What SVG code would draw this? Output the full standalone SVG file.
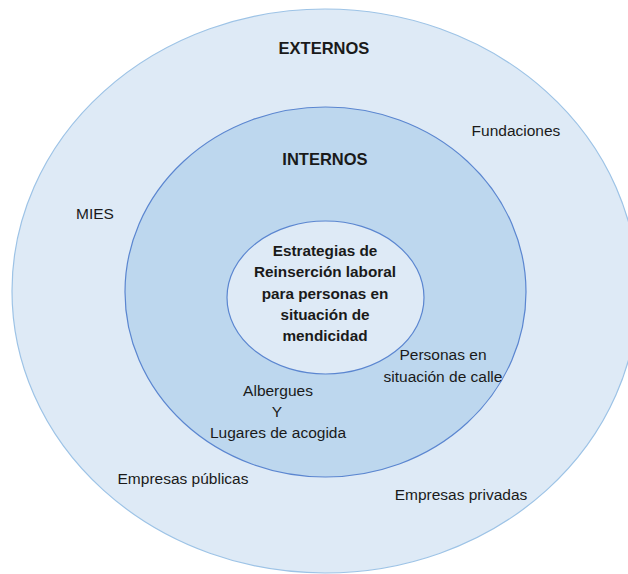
<svg xmlns="http://www.w3.org/2000/svg" width="628" height="574" viewBox="0 0 628 574">
<style>
text{font-family:"Liberation Sans",Arial,sans-serif;font-size:15.5px;fill:#1a1a1a;text-anchor:middle}
.b{font-weight:bold;font-size:15.3px}
.h{font-weight:bold;font-size:16.5px}
.outer{fill:#deeaf6;stroke:#9dc3e6;stroke-width:1.2}
.mid{fill:#bdd7ee;stroke:#5b86d0;stroke-width:1.2}
.inner{fill:#deeaf6;stroke:#5b86d0;stroke-width:1.2}
</style>
<rect width="628" height="574" fill="#ffffff"/>
<g id="externos">
<ellipse class="outer" cx="325" cy="291" rx="313" ry="282"/>
<text class="h" x="324" y="54">EXTERNOS</text>
<text x="516" y="136">Fundaciones</text>
<text x="95" y="219">MIES</text>
<text x="183" y="484">Empresas públicas</text>
<text x="461" y="500">Empresas privadas</text>
</g>
<g id="internos">
<ellipse class="mid" cx="325.5" cy="292" rx="200.5" ry="185"/>
<text class="h" x="325" y="165">INTERNOS</text>
<text x="443" y="360">Personas en</text>
<text x="443" y="382">situación de calle</text>
<text x="278" y="396">Albergues</text>
<text x="277" y="417">Y</text>
<text x="278" y="438">Lugares de acogida</text>
</g>
<g id="centro">
<ellipse class="inner" cx="325.5" cy="297.5" rx="98.5" ry="76.5"/>
<text class="b" x="325" y="256">Estrategias de</text>
<text class="b" x="325" y="277">Reinserción laboral</text>
<text class="b" x="325" y="299">para personas en</text>
<text class="b" x="325" y="320">situación de</text>
<text class="b" x="325" y="341">mendicidad</text>
</g>
<g id="connectors"/>
</svg>
